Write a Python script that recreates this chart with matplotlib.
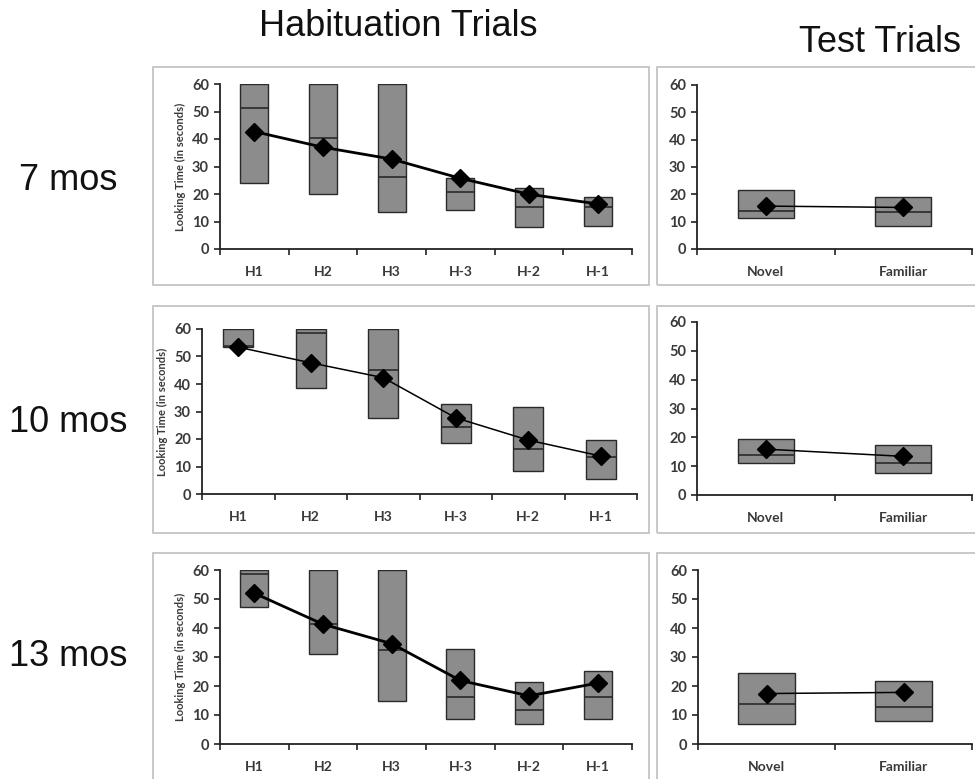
import matplotlib
matplotlib.use("Agg")
import matplotlib.pyplot as plt
from matplotlib.patches import Rectangle
from matplotlib import font_manager
import numpy as np

# ---------------- data ----------------
hab_labels = ["H1", "H2", "H3", "H-3", "H-2", "H-1"]
test_labels = ["Novel", "Familiar"]
row_labels = ["7 mos", "10 mos", "13 mos"]

# 7 months habituation
hab7_q1 = [24.0, 20.0, 13.3, 14.1, 8.1, 8.5]
hab7_med = [51.2, 40.2, 26.3, 20.6, 15.4, 15.3]
hab7_q3 = [60.0, 60.0, 60.0, 25.7, 22.3, 18.9]
hab7_mean = [42.7, 37.0, 32.7, 25.7, 19.9, 16.4]
# 10 months habituation
hab10_q1 = [53.6, 38.4, 27.8, 18.7, 8.5, 5.3]
hab10_med = [53.9, 58.4, 45.1, 24.4, 16.2, 13.5]
hab10_q3 = [60.0, 60.0, 60.0, 32.6, 31.5, 19.8]
hab10_mean = [53.4, 47.7, 42.3, 27.7, 19.6, 13.8]
# 13 months habituation
hab13_q1 = [47.4, 31.0, 14.9, 8.6, 6.8, 8.6]
hab13_med = [58.5, 41.5, 32.3, 16.2, 11.8, 16.2]
hab13_q3 = [60.0, 60.0, 60.0, 32.7, 21.5, 25.1]
hab13_mean = [52.0, 41.3, 34.6, 21.9, 16.6, 21.0]

# test trials
test7_q1 = [11.3, 8.5]
test7_med = [14.0, 13.7]
test7_q3 = [21.6, 18.9]
test7_mean = [15.7, 15.2]
test10_q1 = [11.1, 7.5]
test10_med = [13.9, 11.1]
test10_q3 = [19.4, 17.3]
test10_mean = [15.9, 13.4]
test13_q1 = [6.8, 8.0]
test13_med = [13.7, 12.8]
test13_q3 = [24.5, 21.7]
test13_mean = [17.4, 17.8]

yticks = [0, 10, 20, 30, 40, 50, 60]

# ---------------- layout ----------------
W, H = 975, 779
fig = plt.figure(figsize=(W / 100, H / 100), dpi=100)
fig.patch.set_facecolor("white")

def fx(px):
    return px / W

def fy(py):
    return 1 - py / H

def add_axes(x0, x1, y_top, y_bot):
    return fig.add_axes([fx(x0), fy(y_bot), fx(x1) - fx(x0), fy(y_top) - fy(y_bot)])

available = {f.name for f in font_manager.fontManager.ttflist}
if "Liberation Sans Narrow" in available:
    TITLE_FONT, TITLE_SIZE = "Liberation Sans Narrow", 29
else:
    TITLE_FONT, TITLE_SIZE = "Liberation Sans", 26

BOX_FACE = "#8c8c8c"
EDGE = "#2a2a2a"
TICK_COLOR = "#3a3a3a"
TICK_FONT = "Lato"

def draw_panel(ax, labels, q1, med, q3, mean, lw_line, ylabel=False):
    n = len(labels)
    x = np.arange(n)
    w = 0.41
    q1 = np.array(q1); q3 = np.array(q3); med = np.array(med)
    ax.bar(x, q3 - q1, bottom=q1, width=w, color=BOX_FACE, edgecolor=EDGE,
           linewidth=1.0, zorder=2)
    ax.hlines(med, x - w / 2, x + w / 2, colors=EDGE, linewidth=1.2, zorder=3)
    ax.plot(x, mean, color="black", linewidth=lw_line, marker="D", markersize=9.5,
            markerfacecolor="black", markeredgecolor="black", zorder=4)
    ax.set_xlim(-0.5, n - 0.5)
    ax.set_ylim(0, 60)
    ax.set_yticks(yticks)
    ax.set_xticks(x)
    ax.set_xticklabels(labels, fontsize=10, family=TICK_FONT, color=TICK_COLOR,
                       fontweight="bold")
    ax.set_xticks(np.arange(-0.5, n), minor=True)
    ax.tick_params(axis="x", which="major", length=0, pad=12)
    ax.tick_params(axis="x", which="minor", length=4, width=1.2, color="#222222",
                   direction="out")
    ax.tick_params(axis="y", length=4, width=1.2, color="#222222", direction="out",
                   pad=4, labelsize=10.5, labelcolor=TICK_COLOR)
    for lab in ax.get_yticklabels():
        lab.set_family(TICK_FONT)
        lab.set_fontweight("bold")
    for s in ["top", "right"]:
        ax.spines[s].set_visible(False)
    for s in ["left", "bottom"]:
        ax.spines[s].set_color("#222222")
        ax.spines[s].set_linewidth(1.3)
    ax.set_facecolor("none")
    ax.patch.set_alpha(0)
    if ylabel:
        ax.set_ylabel("Looking Time (in seconds)", fontsize=8, family=TICK_FONT,
                      fontweight="bold", color=TICK_COLOR, labelpad=4)

# panel frames (light gray boxes)
frames = [
    (153, 67, 649, 285), (657, 67, 985, 285),
    (153, 306, 649, 533), (657, 306, 985, 533),
    (153, 553, 649, 790), (657, 553, 985, 790),
]
for (x0, y0, x1, y1) in frames:
    fig.patches.append(Rectangle((fx(x0), fy(y1)), fx(x1) - fx(x0), fy(y0) - fy(y1),
                                 transform=fig.transFigure, fill=False,
                                 edgecolor="#c4c4c4", linewidth=1.3, zorder=0))

hab_data = [
    (hab7_q1, hab7_med, hab7_q3, hab7_mean, 2.0),
    (hab10_q1, hab10_med, hab10_q3, hab10_mean, 1.1),
    (hab13_q1, hab13_med, hab13_q3, hab13_mean, 2.0),
]
test_data = [
    (test7_q1, test7_med, test7_q3, test7_mean, 1.1),
    (test10_q1, test10_med, test10_q3, test10_mean, 1.1),
    (test13_q1, test13_med, test13_q3, test13_mean, 1.1),
]
left_pos = [(220, 632, 84, 249), (202, 637, 329, 494), (220, 632, 570, 744)]
right_pos = [(697, 972, 85, 249), (697, 972, 322, 495), (698, 972, 570, 744)]

for i in range(3):
    ax = add_axes(*left_pos[i])
    q1, med, q3, mean, lw = hab_data[i]
    draw_panel(ax, hab_labels, q1, med, q3, mean, lw, ylabel=True)
    ax2 = add_axes(*right_pos[i])
    q1, med, q3, mean, lw = test_data[i]
    draw_panel(ax2, test_labels, q1, med, q3, mean, lw)

# titles and row labels
fig.text(fx(398), fy(26), "Habituation Trials", fontsize=TITLE_SIZE, family=TITLE_FONT,
         ha="center", va="center", color="#111111")
fig.text(fx(880), fy(43), "Test Trials", fontsize=TITLE_SIZE, family=TITLE_FONT,
         ha="center", va="center", color="#111111")
row_y = [181, 423, 656]
for lab, yy in zip(row_labels, row_y):
    fig.text(fx(68), fy(yy), lab, fontsize=26, family="Liberation Sans",
             ha="center", va="center", color="#111111")

fig.savefig("out.png", dpi=100, facecolor="white")
